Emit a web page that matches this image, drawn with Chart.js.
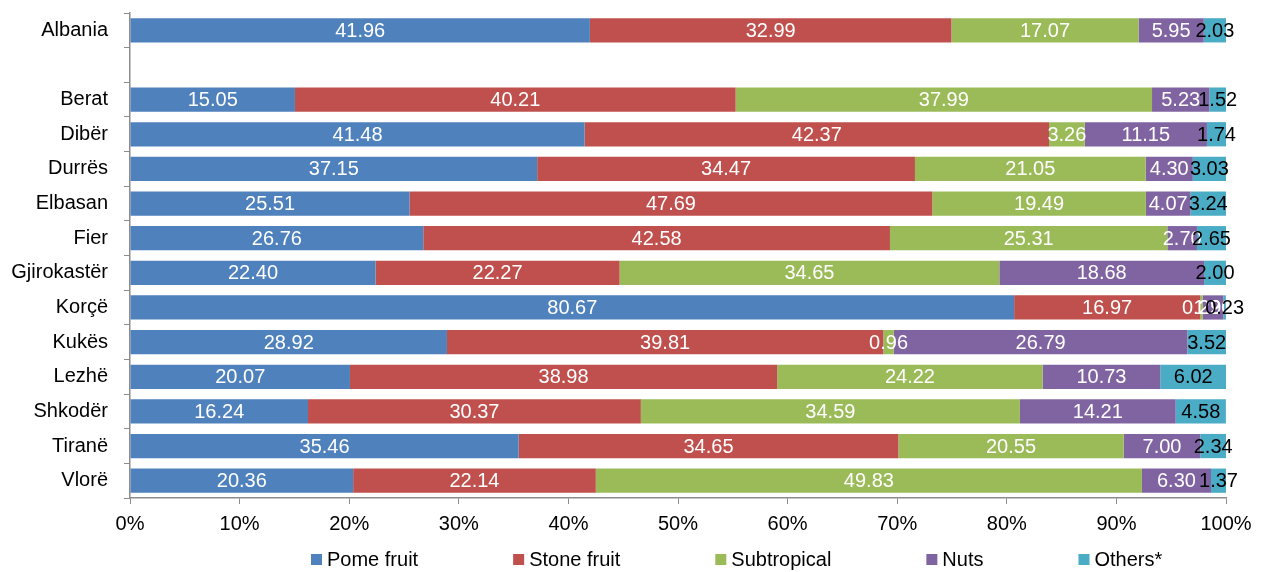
<!DOCTYPE html>
<html>
<head>
<meta charset="utf-8">
<script src="https://cdn.jsdelivr.net/npm/chart.js@4"></script>
<style>
  html, body { margin: 0; padding: 0; background: #fff; }
  #wrap { width: 1268px; height: 572px; }
</style>
</head>
<body>
<div id="wrap"><canvas id="chart"></canvas></div>
<script>
// ---------- Data ----------
const regions = ["Albania", "", "Berat", "Dibër", "Durrës", "Elbasan", "Fier", "Gjirokastër",
  "Korçë", "Kukës", "Lezhë", "Shkodër", "Tiranë", "Vlorë"];

const pomeFruit   = [41.96, null, 15.05, 41.48, 37.15, 25.51, 26.76, 22.40, 80.67, 28.92, 20.07, 16.24, 35.46, 20.36];
const stoneFruit  = [32.99, null, 40.21, 42.37, 34.47, 47.69, 42.58, 22.27, 16.97, 39.81, 38.98, 30.37, 34.65, 22.14];
const subtropical = [17.07, null, 37.99,  3.26, 21.05, 19.49, 25.31, 34.65,  0.22,  0.96, 24.22, 34.59, 20.55, 49.83];
const nuts        = [ 5.95, null,  5.23, 11.15,  4.30,  4.07,  2.70, 18.68,  1.90, 26.79, 10.73, 14.21,  7.00,  6.30];
const others      = [ 2.03, null,  1.52,  1.74,  3.03,  3.24,  2.65,  2.00,  0.23,  3.52,  6.02,  4.58,  2.34,  1.37];

const seriesNames = ["Pome fruit", "Stone fruit", "Subtropical", "Nuts", "Others*"];
const xTicks = [0, 10, 20, 30, 40, 50, 60, 70, 80, 90, 100];

// ---------- Style ----------
const colors = ["#4F81BD", "#C0504D", "#9BBB59", "#8064A2", "#4BACC6"];
const labelColors = ["#fff", "#fff", "#fff", "#fff", "#000"];
const FONT = "'Liberation Sans', Arial, sans-serif";
const FS = 20;
const AXIS = "#8c8c8c";

// ---------- Value labels (no datalabels plugin available) ----------
const valueLabels = {
  id: "valueLabels",
  afterDatasetsDraw(chart) {
    const ctx = chart.ctx;
    ctx.save();
    ctx.font = FS + "px " + FONT;
    ctx.textAlign = "center";
    ctx.textBaseline = "middle";
    chart.data.datasets.forEach((ds, i) => {
      const meta = chart.getDatasetMeta(i);
      meta.data.forEach((bar, j) => {
        const v = ds.data[j];
        if (v == null) return;
        const p = bar.getProps(["x", "y", "base"], true);
        ctx.fillStyle = labelColors[i];
        ctx.fillText(v.toFixed(2), (p.x + p.base) / 2, p.y + 1);
      });
    });
    ctx.restore();
  }
};

// ---------- Legend (wide gaps like the original, drawn by hand) ----------
const wideLegend = {
  id: "wideLegend",
  afterDraw(chart) {
    const ctx = chart.ctx;
    ctx.save();
    ctx.font = FS + "px " + FONT;
    ctx.textBaseline = "middle";
    let x = 311;
    const y = 560;
    chart.data.datasets.forEach(ds => {
      ctx.fillStyle = ds.backgroundColor;
      ctx.fillRect(x, y - 6, 11, 11);
      ctx.fillStyle = "#000";
      ctx.fillText(ds.label, x + 16, y);
      x += 16 + ctx.measureText(ds.label).width + 95;
    });
    ctx.restore();
  }
};

const datasets = [pomeFruit, stoneFruit, subtropical, nuts, others].map((d, i) => ({
  label: seriesNames[i],
  data: d,
  backgroundColor: colors[i],
  borderWidth: 0,
  categoryPercentage: 1,
  barPercentage: 0.7
}));

new Chart(document.getElementById("chart"), {
  type: "bar",
  data: { labels: regions, datasets },
  options: {
    indexAxis: "y",
    responsive: true,
    maintainAspectRatio: false,
    animation: false,
    layout: { padding: { top: 13, right: 42, bottom: 28, left: 0 } },
    plugins: {
      legend: { display: false },
      tooltip: { enabled: false }
    },
    scales: {
      x: {
        stacked: true, min: 0, max: 100,
        afterBuildTicks: s => { s.ticks = xTicks.map(v => ({ value: v })); },
        ticks: { callback: v => v + "%", color: "#000", font: { family: FONT, size: FS }, padding: 8, maxRotation: 0 },
        grid: { drawOnChartArea: false, drawTicks: true, tickLength: 6, color: AXIS },
        border: { color: AXIS, width: 1.5 }
      },
      y: {
        stacked: true,
        afterFit: s => { s.width = 130; s.paddingTop = 0; s.paddingBottom = 0; },
        ticks: { color: "#000", font: { family: FONT, size: FS }, padding: 16, autoSkip: false },
        grid: { offset: true, drawOnChartArea: false, drawTicks: true, tickLength: 6, color: AXIS },
        border: { color: AXIS, width: 1.5 }
      }
    }
  },
  plugins: [valueLabels, wideLegend]
});
</script>
</body>
</html>
